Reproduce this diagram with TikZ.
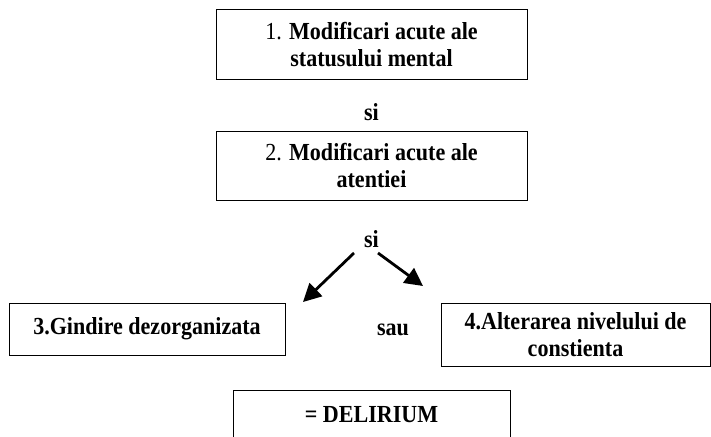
\documentclass[tikz,border=0pt]{standalone}
\usepackage{fontspec}
\setmainfont{Liberation Serif}[FakeStretch=0.9]
\usetikzlibrary{arrows.meta}
\tikzset{
  crit/.style={draw, line width=1pt, align=center, inner sep=0pt,
    font=\fontsize{24.5}{27}\selectfont\bfseries},
  word/.style={font=\fontsize{24.5}{27}\selectfont\bfseries},
  pick/.style={-{Triangle[length=18pt,width=18pt]}, line width=2.8pt},
}

\begin{document}
\begin{tikzpicture}[x=1pt, y=-1pt]
\useasboundingbox (0,0) rectangle (711,436);
\clip (0,0) rectangle (711,436);

% the two first criteria
\node[crit, minimum width=311pt, minimum height=69pt] (c1) at (371.5,44.5)
  {{\mdseries 1.} Modificari acute ale\\statusului mental};
\node[word] (si1) at (371.5,112) {si};
\node[crit, minimum width=311pt, minimum height=69pt] (c2) at (371.5,165.5)
  {{\mdseries 2.} Modificari acute ale\\atentiei};
\node[word] (si2) at (371.5,239) {si};

% one of the last two
\node[crit, minimum width=276pt, minimum height=52pt] (c3) at (147,329)
  {3.Gindire dezorganizata};
\node[word] (sau) at (393,330) {sau};
\node[crit, minimum width=269pt, minimum height=63pt] (c4) at (575.5,334.5)
  {4.Alterarea nivelului de\\constienta};

% result
\node[crit, minimum width=277pt, minimum height=50pt] (del) at (371.5,415)
  {= DELIRIUM};

% arrows
\coordinate (l0) at (354,253);
\coordinate (l1) at (303,302);
\coordinate (r0) at (378,253);
\coordinate (r1) at (423,286);
\draw[pick] (l0) -- (l1);
\draw[pick] (r0) -- (r1);

\end{tikzpicture}
\end{document}
